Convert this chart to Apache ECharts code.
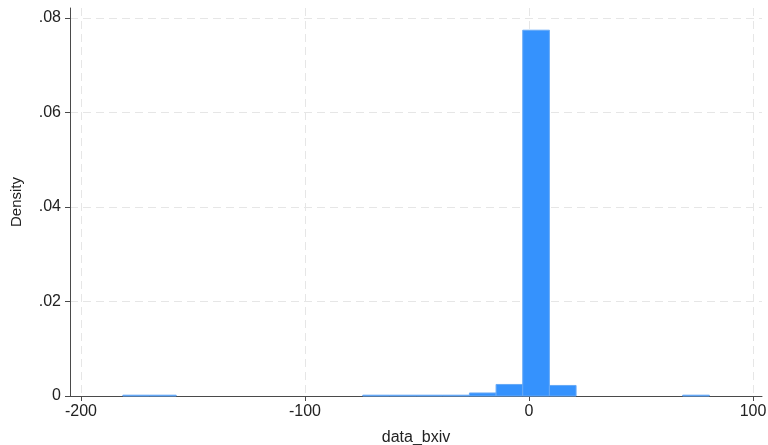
<!DOCTYPE html>
<html>
<head>
<meta charset="utf-8">
<script src="https://cdn.jsdelivr.net/npm/echarts@6/dist/echarts.min.js"></script>
<style>
  html, body { margin: 0; padding: 0; background: #ffffff; }
  #chart { width: 768px; height: 445px; }
</style>
</head>
<body>
<div id="chart"></div>
<script>
// Histogram of data_bxiv: 22 equal-width bins, heights are densities.
const binStart = -181.3;
const binWidth = 11.9;
const densities = [
  0.00017, 0.00017, 0, 0, 0, 0, 0, 0, 0,
  0.00017, 0.00017, 0.00017, 0.00017,
  0.00064, 0.00244, 0.0774, 0.00223,
  0, 0, 0, 0,
  0.00017
];
const xTicks = [-200, -100, 0, 100];
const yTicks = [0, 0.02, 0.04, 0.06, 0.08];
const xTitle = 'data_bxiv';
const yTitle = 'Density';

const bins = densities.map((d, i) => {
  const lo = binStart + i * binWidth;
  return [lo, lo + binWidth, d];
});

const font = "'Liberation Sans', Arial, Helvetica, sans-serif";
const axisColor = '#4a4a4a';
const textColor = '#222222';
const gridLine = { show: true, lineStyle: { color: '#e6e6e6', type: [8, 5], width: 1 } };

const chart = echarts.init(document.getElementById('chart'), null, { renderer: 'canvas' });
chart.setOption({
  animation: false,
  backgroundColor: '#ffffff',
  grid: { left: 70, right: 6, top: 8, bottom: 49, containLabel: false, outerBoundsMode: 'none' },
  xAxis: {
    type: 'value',
    min: -204.9,
    max: 104,
    name: xTitle,
    nameLocation: 'middle',
    nameGap: 34,
    nameTextStyle: { fontFamily: font, fontSize: 16, color: textColor },
    axisLine: { show: true, onZero: false, lineStyle: { color: axisColor, width: 1 } },
    axisTick: { show: true, length: 5, customValues: xTicks, lineStyle: { color: axisColor } },
    axisLabel: { customValues: xTicks, margin: 8, fontFamily: font, fontSize: 16, color: textColor },
    splitLine: gridLine
  },
  yAxis: {
    type: 'value',
    min: 0,
    max: 0.0821,
    name: yTitle,
    nameLocation: 'middle',
    nameGap: 46,
    nameRotate: 90,
    nameTextStyle: { fontFamily: font, fontSize: 15, color: textColor },
    axisLine: { show: true, onZero: false, lineStyle: { color: axisColor, width: 1 } },
    axisTick: { show: true, length: 5, customValues: yTicks, lineStyle: { color: axisColor } },
    axisLabel: {
      customValues: yTicks,
      margin: 9,
      fontFamily: font,
      fontSize: 16,
      color: textColor,
      formatter: v => (v === 0 ? '0' : v.toFixed(2).replace(/^0/, ''))
    },
    splitLine: gridLine
  },
  series: [{
    type: 'custom',
    data: bins,
    encode: { x: [0, 1], y: 2 },
    renderItem: function (params, api) {
      const d = api.value(2);
      if (!(d > 0)) return null;
      const p0 = api.coord([api.value(0), d]);
      const p1 = api.coord([api.value(1), 0]);
      return {
        type: 'rect',
        shape: { x: p0[0], y: p0[1], width: p1[0] - p0[0], height: p1[1] - p0[1] },
        style: { fill: '#3592fd', stroke: '#66a9f6', lineWidth: 1 }
      };
    }
  }]
});
</script>
</body>
</html>
